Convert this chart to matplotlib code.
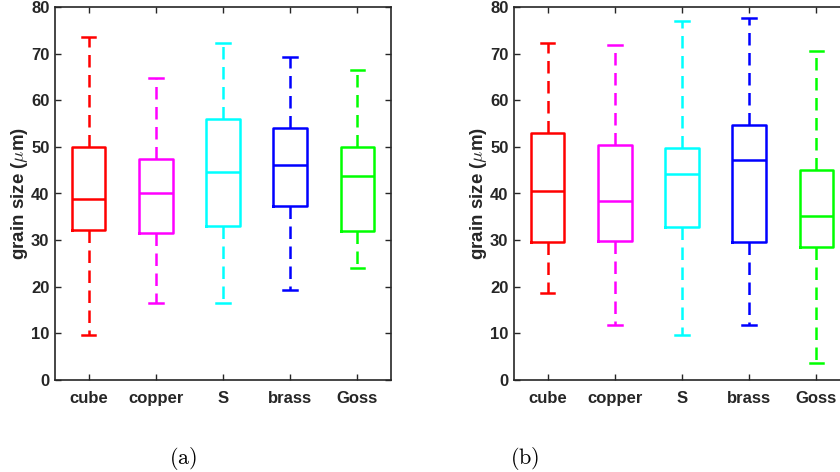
import matplotlib
matplotlib.use('Agg')
import matplotlib.pyplot as plt

plt.rcParams['font.family'] = ['Liberation Sans', 'DejaVu Sans']
plt.rcParams['mathtext.fontset'] = 'cm'

categories = ['cube', 'copper', 'S', 'brass', 'Goss']
colors = ['#ff0000', '#ff00ff', '#00ffff', '#0000ff', '#00ff00']

# panel (a): whisker low, Q1, median, Q3, whisker high
a_low = [9.6, 16.6, 16.6, 19.3, 24.0]
a_q1 = [32.2, 31.6, 33.1, 37.4, 32.0]
a_med = [38.8, 40.0, 44.7, 46.2, 43.8]
a_q3 = [49.9, 47.4, 55.9, 54.0, 49.9]
a_high = [73.6, 64.8, 72.3, 69.3, 66.4]

# panel (b)
b_low = [18.7, 11.8, 9.6, 11.7, 3.6]
b_q1 = [29.5, 29.9, 32.8, 29.6, 28.5]
b_med = [40.6, 38.4, 44.1, 47.2, 35.2]
b_q3 = [52.9, 50.4, 49.7, 54.7, 45.0]
b_high = [72.3, 71.8, 76.9, 77.6, 70.6]

FG = '#262626'


def draw_panel(ax, low, q1, med, q3, high):
    for i, c in enumerate(colors):
        stats = [{'whislo': low[i], 'q1': q1[i], 'med': med[i],
                  'q3': q3[i], 'whishi': high[i], 'fliers': []}]
        ax.bxp(stats, positions=[i + 1], widths=0.5, showfliers=False,
               capwidths=0.2,
               boxprops=dict(color=c, linewidth=1.8),
               medianprops=dict(color=c, linewidth=1.8),
               whiskerprops=dict(color=c, linewidth=1.8, linestyle=(0, (5, 3))),
               capprops=dict(color=c, linewidth=1.8))
    ax.set_xlim(0.5, 5.5)
    ax.set_ylim(0, 80)
    ax.set_xticks(range(1, 6))
    ax.set_xticklabels(categories)
    ax.set_yticks(range(0, 81, 10))
    ax.tick_params(direction='in', top=True, right=True, length=4,
                   width=1.0, color=FG, labelcolor=FG, labelsize=12)
    ax.tick_params(axis='y', pad=4)
    ax.tick_params(axis='x', pad=8)
    for lab in ax.get_xticklabels() + ax.get_yticklabels():
        lab.set_fontweight('bold')
    for sp in ax.spines.values():
        sp.set_color(FG)
        sp.set_linewidth(1.2)
    ax.set_ylabel(r'grain size ($\mu$m)', fontsize=13.5, fontweight='bold',
                  color=FG, labelpad=1)


fig = plt.figure(figsize=(8.4, 4.72), dpi=100)
W, H = 840, 472
ax1 = fig.add_axes([55 / W, (H - 380) / H, 336 / W, 373 / H])
ax2 = fig.add_axes([514 / W, (H - 380) / H, 336 / W, 373 / H])

draw_panel(ax1, a_low, a_q1, a_med, a_q3, a_high)
draw_panel(ax2, b_low, b_q1, b_med, b_q3, b_high)

fig.text(183 / W, 1 - 458 / H, r'$\mathrm{(a)}$', ha='center', va='center', fontsize=16)
fig.text(525 / W, 1 - 458 / H, r'$\mathrm{(b)}$', ha='center', va='center', fontsize=16)

fig.savefig('out.png', dpi=100)
